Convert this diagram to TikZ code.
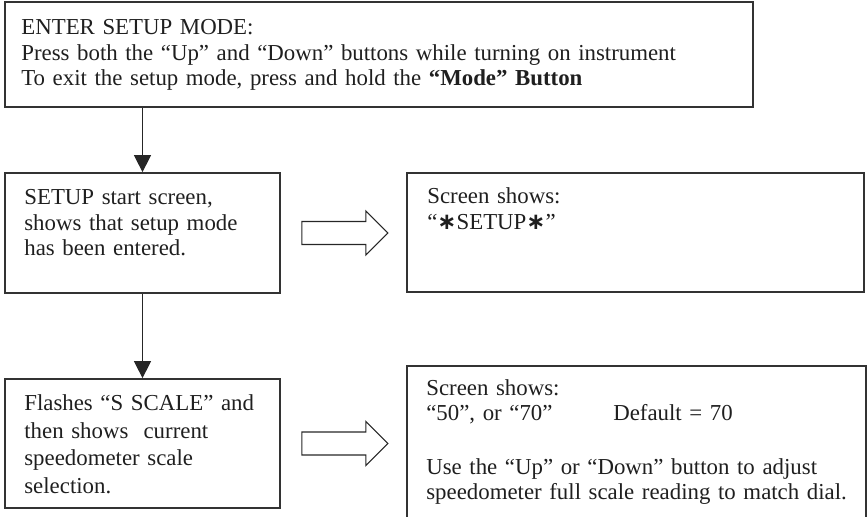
\documentclass[tikz,border=0pt]{standalone}
\usepackage{fontspec}
\setmainfont{Liberation Serif}
\newfontfamily\starfont{DejaVu Sans}
\usetikzlibrary{arrows.meta}
\newcommand{\stars}{{\starfont\bfseries ∗}}
\begin{document}
\begin{tikzpicture}[x=0.02cm, y=-0.02cm,
		box/.style 2 args={draw=black!80, line width=1pt, minimum width=#1, minimum height=#2, inner sep=0pt},
		txt/.style={anchor=base west, inner sep=0pt, align=left, text width=#1, text=black!88, font=\fontsize{13}{14.5}\selectfont},
		down/.style={draw=black!85, line width=0.7pt, -{Triangle[length=0.34cm, width=0.34cm]}}]
		\useasboundingbox (0,0) rectangle (867,517);
		\node[box={14.96cm}{2.1cm}] (setup) at (379,54.5) {};
		\node[box={5.5cm}{2.4cm}] (start) at (142.5,233) {};
		\node[box={9.14cm}{2.38cm}] (screenA) at (635.5,232.5) {};
		\node[box={5.5cm}{2.58cm}] (scale) at (142.5,443.5) {};
		\node[box={9.18cm}{3.28cm}] (screenB) at (636.5,448) {};
		\node[txt=14.4cm] (setuptext) at (21,35) {ENTER SETUP MODE:\\Press both the “Up” and “Down” buttons while turning on instrument\\To exit the setup mode, press and hold the \textbf{“Mode” Button}};
		\node[txt=5cm] (starttext) at (24,205) {SETUP start screen,\\shows that setup mode\\has been entered.};
		\node[txt=8.6cm] (screenAtext) at (427,204) {Screen shows:\\“\stars SETUP\stars”};
		\node[txt=5cm, font=\fontsize{13}{15.6}\selectfont] (scaletext) at (24,411) {Flashes “S SCALE” and\\then shows~ current\\speedometer scale\\selection.};
		\node[txt=8.8cm, font=\fontsize{13}{14.2}\selectfont] (screenBtext) at (426,396) {Screen shows:\\\makebox[3.74cm][l]{“50”, or “70”}Default = 70\\[16.5pt]Use the “Up” or “Down” button to adjust\\speedometer full scale reading to match dial.};
		\draw[down] (start.north |- setup.south) -- (start.north);
		\draw[down] (start.south) -- (scale.north);
		\foreach \a in {start, scale}
			\draw[draw=black!85, line width=0.6pt] ([shift={(21,-11.5)}]\a.east) -- ++(64,0) -- ++(0,-10.5) -- ++(22,22) -- ++(-22,22) -- ++(0,-10.5) -- ++(-64,0) -- cycle;
	\end{tikzpicture}
\end{document}
